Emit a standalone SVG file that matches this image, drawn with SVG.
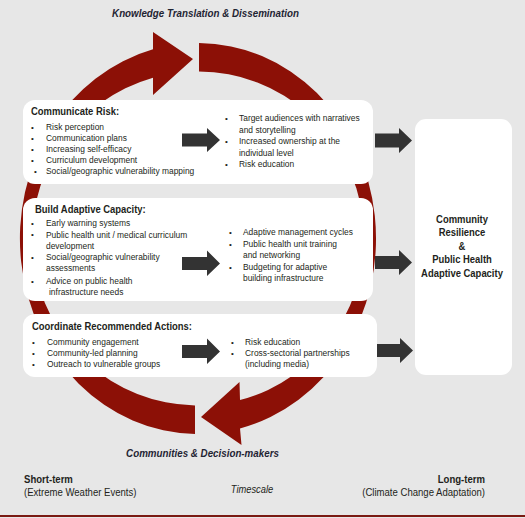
<svg xmlns="http://www.w3.org/2000/svg" width="525" height="518" viewBox="0 0 525 518">
<style>
text{font-family:"Liberation Sans",Arial,sans-serif;fill:#231f20}
.hd{font-weight:bold;font-size:10.5px}
.bd{font-size:9.8px}
.bl{font-size:8px}
.ttl{font-weight:bold;font-style:italic;font-size:11px;fill:#1f2433}
.ft{font-size:11px}
.ftb{font-size:11px;font-weight:bold}
.fti{font-size:11px;font-style:italic}
.box{fill:#ffffff}
.ring{fill:#8c1006}
.arr{fill:#333333}
</style>
<rect x="0" y="0" width="525" height="518" fill="#e7e7e7"/>
<rect x="0" y="515" width="525" height="2" fill="#7a1a12"/>

<g id="cycle">
<path class="ring" d="M195,434 A178,195.5 0 0 1 153,49.35 L153,32 L193,59 L153,95 L153,77.75 A166,167 0 0 0 195,405.47 Z"/>
<path class="ring" d="M199,43 A178,195.5 0 0 1 240,428.48 L241.5,445 L201,417 L239.5,382 L240,400.07 A166,167 0 0 0 199,71.5 Z"/>
</g>

<g id="title-top"><text class="ttl" transform="translate(205.5,17) scale(0.89,1)" text-anchor="middle">Knowledge Translation &amp; Dissemination</text></g>
<g id="title-bottom"><text class="ttl" transform="translate(202.5,457) scale(0.89,1)" text-anchor="middle">Communities &amp; Decision-makers</text></g>

<g id="communicate-risk">
<rect class="box" x="23" y="100" width="350" height="84" rx="12"/>
<text class="hd" transform="translate(31,115) scale(0.9,1)">Communicate Risk:</text>
<g class="bl"><text x="31" y="130">•</text><text x="31" y="141">•</text><text x="31" y="152">•</text><text x="31" y="163">•</text><text x="34" y="174">•</text></g>
<g transform="translate(46,0) scale(0.86,1)">
<text class="bd" y="130.5">Risk perception</text>
<text class="bd" y="141.5">Communication plans</text>
<text class="bd" y="152.5">Increasing self-efficacy</text>
<text class="bd" y="163.5">Curriculum development</text>
<text class="bd" y="174.5">Social/geographic vulnerability mapping</text>
</g>
<g class="bl"><text x="225" y="121">•</text><text x="225" y="144">•</text><text x="225" y="167">•</text></g>
<g transform="translate(239,0) scale(0.86,1)">
<text class="bd" y="121.5">Target audiences with narratives</text>
<text class="bd" y="133">and storytelling</text>
<text class="bd" y="144.5">Increased ownership at the</text>
<text class="bd" y="156">individual level</text>
<text class="bd" y="167.5">Risk education</text>
</g>
</g>

<g id="build-capacity">
<rect class="box" x="23" y="198" width="350" height="103" rx="12"/>
<text class="hd" transform="translate(35,213) scale(0.9,1)">Build Adaptive Capacity:</text>
<g class="bl"><text x="31" y="226">•</text><text x="31" y="237">•</text><text x="31" y="260">•</text><text x="31" y="283.5">•</text></g>
<g transform="translate(46,0) scale(0.86,1)">
<text class="bd" y="226.5">Early warning systems</text>
<text class="bd" y="238">Public health unit / medical curriculum</text>
<text class="bd" y="249">development</text>
<text class="bd" y="260.5">Social/geographic vulnerability</text>
<text class="bd" y="271.5">assessments</text>
<text class="bd" y="284">Advice on public health</text>
<text class="bd" x="3.5" y="295">infrastructure needs</text>
</g>
<g class="bl"><text x="229" y="235">•</text><text x="229" y="247">•</text><text x="229" y="269.5">•</text></g>
<g transform="translate(243,0) scale(0.86,1)">
<text class="bd" y="235.5">Adaptive management cycles</text>
<text class="bd" y="247">Public health unit training</text>
<text class="bd" y="258.5">and networking</text>
<text class="bd" y="270">Budgeting for adaptive</text>
<text class="bd" y="281">building infrastructure</text>
</g>
</g>

<g id="coordinate-actions">
<rect class="box" x="23" y="314" width="354" height="63" rx="12"/>
<text class="hd" transform="translate(32,329.5) scale(0.9,1)">Coordinate Recommended Actions:</text>
<g class="bl"><text x="32" y="344.5">•</text><text x="32" y="356">•</text><text x="32" y="367">•</text></g>
<g transform="translate(47,0) scale(0.86,1)">
<text class="bd" y="345">Community engagement</text>
<text class="bd" y="356.5">Community-led planning</text>
<text class="bd" y="367.5">Outreach to vulnerable groups</text>
</g>
<g class="bl"><text x="231" y="344.5">•</text><text x="231" y="356">•</text></g>
<g transform="translate(245,0) scale(0.86,1)">
<text class="bd" y="345">Risk education</text>
<text class="bd" y="356.5">Cross-sectorial partnerships</text>
<text class="bd" y="367.5">(including media)</text>
</g>
</g>

<g id="outcome">
<rect class="box" x="415" y="119" width="97" height="256" rx="11"/>
<g transform="translate(462,0) scale(0.9,1)" text-anchor="middle">
<text class="hd" y="223">Community</text>
<text class="hd" y="236.5">Resilience</text>
<text class="hd" y="250">&amp;</text>
<text class="hd" y="263.5">Public Health</text>
<text class="hd" y="277">Adaptive Capacity</text>
</g>
</g>

<g id="connectors">
<path class="arr" d="M182,133.5 H207 V128 L220,140 L207,152 V146.5 H182 Z"/>
<path class="arr" d="M375,133.5 H399 V128 L412,140.5 L399,153 V147.5 H375 Z"/>
<path class="arr" d="M182,257 H207 V250.5 L220,263.5 L207,276 V270 H182 Z"/>
<path class="arr" d="M375,256 H399 V250 L412,262.5 L399,275 V269 H375 Z"/>
<path class="arr" d="M182,345 H207 V338.5 L220,351.5 L207,364 V358 H182 Z"/>
<path class="arr" d="M377,344 H400 V338 L413,350.5 L400,363 V357 H377 Z"/>
</g>

<g id="timescale">
<text class="ftb" transform="translate(24,483) scale(0.87,1)">Short-term</text>
<text class="ft" transform="translate(24,496) scale(0.87,1)">(Extreme Weather Events)</text>
<text class="fti" transform="translate(252,493) scale(0.85,1)" text-anchor="middle">Timescale</text>
<text class="ftb" transform="translate(485,483) scale(0.87,1)" text-anchor="end">Long-term</text>
<text class="ft" transform="translate(485,496) scale(0.87,1)" text-anchor="end">(Climate Change Adaptation)</text>
</g>
</svg>
